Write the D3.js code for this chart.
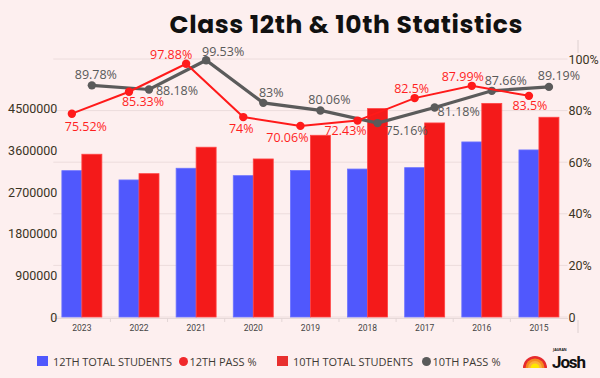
<!DOCTYPE html>
<html>
<head>
<meta charset="utf-8">
<script src="https://cdn.jsdelivr.net/npm/d3@7"></script>
<style>
  body { margin: 0; background: #fdefef; }
  svg { display: block; font-family: "Open Sans", sans-serif; }
</style>
</head>
<body>
<div id="chart"></div>
<script>
const years = ["2023", "2022", "2021", "2020", "2019", "2018", "2017", "2016", "2015"];
const total12 = [3165000, 2964000, 3217000, 3057000, 3170000, 3200000, 3230000, 3786000, 3613000];
const total10 = [3520000, 3100000, 3672000, 3418000, 3930000, 4507000, 4197000, 4620000, 4320000];
const pass12 = [75.52, 85.33, 97.88, 74, 70.06, 72.43, 82.5, 87.99, 83.5];
const pass10 = [89.78, 88.18, 99.53, 83, 80.06, 75.16, 81.18, 87.66, 89.19];
const leftTicks = [0, 900000, 1800000, 2700000, 3600000, 4500000];
const rightTicks = [0, 20, 40, 60, 80, 100];
const legendItems = [
  { label: "12TH TOTAL STUDENTS", shape: "rect", color: "#5058fd" },
  { label: "12TH PASS %", shape: "circle", color: "#f0282b" },
  { label: "10TH TOTAL STUDENTS", shape: "rect", color: "#e8302f" },
  { label: "10TH PASS %", shape: "circle", color: "#5a5a5a" },
];

// label placement (dx from point to label centre, dy to baseline)
const offset12 = [[14, 17], [14, 14], [-15, -5], [-2, 16], [-13, 16], [-12, 14], [-3, -5], [-9, -5], [1, 14]];
const offset10 = [[4, -6], [28, 6], [17, -4], [8, -6], [9, -6], [29, 12], [24, 8], [14, -6], [10, -7]];

const width = 600, height = 378;
const margin = { left: 53.3, right: 32.5, top: 59, bottom: 61 };
const plotRight = width - margin.right;
const plotBottom = height - margin.bottom;

const svg = d3.select("#chart").append("svg")
  .attr("width", width)
  .attr("height", height);

svg.append("rect").attr("width", width).attr("height", height).attr("fill", "#fdefef");

// title
svg.append("text")
  .attr("x", 346).attr("y", 33)
  .attr("text-anchor", "middle")
  .attr("textLength", 353)
  .style("font-family", "Poppins, 'Open Sans', sans-serif")
  .style("font-weight", 700)
  .style("font-size", "25px")
  .attr("fill", "#111")
  .text("Class 12th & 10th Statistics");

// scales
const x = d3.scaleBand()
  .domain(years)
  .range([margin.left, plotRight])
  .paddingInner(0.3)
  .paddingOuter(0.15);

const xSub = d3.scaleBand()
  .domain(["12", "10"])
  .range([0, x.bandwidth()]);

const yLeft = d3.scaleLinear().domain([0, 5580000]).range([plotBottom, margin.top]);
const yPct = d3.scaleLinear().domain([0, 100]).range([plotBottom, margin.top]);
const y12 = d3.scaleLinear().domain([-15.5, 100]).range([plotBottom, margin.top]);

// grid lines (from right axis)
svg.append("g")
  .selectAll("line")
  .data(rightTicks)
  .join("line")
  .attr("x1", margin.left).attr("x2", plotRight)
  .attr("y1", d => yPct(d)).attr("y2", d => yPct(d))
  .attr("stroke", "#ecdcdc")
  .attr("stroke-width", 1);

// x axis
const xAxis = svg.append("g")
  .attr("transform", `translate(0,${plotBottom + 1})`)
  .call(d3.axisBottom(x).tickSize(0).tickPadding(7))
  .call(g => g.select(".domain").attr("stroke", "#e6d8d8"));
xAxis.selectAll("text")
  .attr("fill", "#444")
  .style("font-size", "8.5px")
  .style("font-family", "Roboto, sans-serif");

const step = x.step();
svg.append("g")
  .selectAll("line")
  .data(years.slice(1))
  .join("line")
  .attr("x1", d => x(d) - (step - x.bandwidth()) / 2)
  .attr("x2", d => x(d) - (step - x.bandwidth()) / 2)
  .attr("y1", plotBottom + 1).attr("y2", plotBottom + 5)
  .attr("stroke", "#e3d6d6");

// left axis
svg.append("g")
  .attr("transform", `translate(${margin.left + 7},0)`)
  .call(d3.axisLeft(yLeft).tickValues(leftTicks).tickSize(0).tickPadding(3).tickFormat(d3.format("d")))
  .call(g => g.select(".domain").remove())
  .selectAll("text")
  .attr("fill", "#3b3424")
  .style("font-size", "12.5px")
  .style("font-family", "Roboto, sans-serif");

// right axis
svg.append("g")
  .attr("transform", `translate(${plotRight - 2},0)`)
  .call(d3.axisRight(yPct).tickValues(rightTicks).tickSize(0).tickPadding(3)
    .tickFormat(d => d === 0 ? "0" : d + "%"))
  .call(g => g.select(".domain").remove())
  .selectAll("text")
  .attr("fill", "#3b3424")
  .style("font-size", "12.5px")
  .style("font-family", "Roboto, sans-serif");

svg.append("g")
  .selectAll("line")
  .data([[margin.top - 19, margin.top - 6], [plotBottom + 3, plotBottom + 16]])
  .join("line")
  .attr("x1", plotRight + 10.5).attr("x2", plotRight + 10.5)
  .attr("y1", d => d[0]).attr("y2", d => d[1])
  .attr("stroke", "#ddd0d0");

// bars
const bars = svg.append("g");
bars.selectAll(".b12")
  .data(years)
  .join("rect")
  .attr("class", "b12")
  .attr("x", (d) => x(d) + xSub("12"))
  .attr("y", (d, i) => yLeft(total12[i]))
  .attr("width", xSub.bandwidth())
  .attr("height", (d, i) => plotBottom - yLeft(total12[i]))
  .attr("fill", "#5058fd")
  .attr("stroke", "#6d73ff")
  .attr("stroke-width", 0.8);

bars.selectAll(".b10")
  .data(years)
  .join("rect")
  .attr("class", "b10")
  .attr("x", (d) => x(d) + xSub("10"))
  .attr("y", (d, i) => yLeft(total10[i]))
  .attr("width", xSub.bandwidth())
  .attr("height", (d, i) => plotBottom - yLeft(total10[i]))
  .attr("fill", "#f41a1a")
  .attr("stroke", "#ff4444")
  .attr("stroke-width", 0.8);

// lines
const cx12 = (d) => x(d) + xSub("12") + xSub.bandwidth() / 2;
const cx10 = (d) => x(d) + xSub("10") + xSub.bandwidth() / 2;

const line10 = d3.line().x((d, i) => cx10(years[i])).y(d => yPct(d));
svg.append("path")
  .datum(pass10)
  .attr("d", line10)
  .attr("fill", "none")
  .attr("stroke", "#5b5b5b")
  .attr("stroke-width", 3.2);
svg.append("g").selectAll("circle")
  .data(pass10)
  .join("circle")
  .attr("cx", (d, i) => cx10(years[i]))
  .attr("cy", d => yPct(d))
  .attr("r", 4.2)
  .attr("fill", "#5b5b5b");

const line12 = d3.line().x((d, i) => cx12(years[i])).y(d => y12(d));
svg.append("path")
  .datum(pass12)
  .attr("d", line12)
  .attr("fill", "none")
  .attr("stroke", "#ff1a1a")
  .attr("stroke-width", 2);
svg.append("g").selectAll("circle")
  .data(pass12)
  .join("circle")
  .attr("cx", (d, i) => cx12(years[i]))
  .attr("cy", d => y12(d))
  .attr("r", 4.2)
  .attr("fill", "#ff1a1a");

// value labels
svg.append("g").selectAll("text")
  .data(pass10)
  .join("text")
  .attr("x", (d, i) => cx10(years[i]) + offset10[i][0])
  .attr("y", (d, i) => yPct(d) + offset10[i][1])
  .attr("text-anchor", "middle")
  .attr("fill", "#595959")
  .style("font-size", "12.5px")
  .text(d => d + "%");

svg.append("g").selectAll("text")
  .data(pass12)
  .join("text")
  .attr("x", (d, i) => cx12(years[i]) + offset12[i][0])
  .attr("y", (d, i) => y12(d) + offset12[i][1])
  .attr("text-anchor", "middle")
  .attr("fill", "#ff1f1f")
  .style("font-size", "12.5px")
  .text(d => d + "%");

// legend
const legendX = [37, 179, 277, 422];
const legendW = [119, 67, 120, 68];
const legend = svg.append("g").attr("transform", "translate(0,361.5)");
legendItems.forEach((item, i) => {
  const g = legend.append("g").attr("transform", `translate(${legendX[i]},0)`);
  if (item.shape === "rect") {
    g.append("rect").attr("x", 0).attr("y", -5.5).attr("width", 11).attr("height", 10).attr("fill", item.color);
  } else {
    g.append("circle").attr("cx", 4.5).attr("cy", 0).attr("r", 4.5).attr("fill", item.color);
  }
  g.append("text")
    .attr("x", item.shape === "rect" ? 16 : 10.5)
    .attr("y", 4)
    .attr("textLength", legendW[i])
    .attr("fill", "#3d3a35")
    .style("font-size", "11px")
    .style("font-weight", 500)
    .text(item.label);
});

// Josh logo
const logo = svg.append("g").attr("transform", "translate(535,368)");
[[12, "#e62a2d"], [9.5, "#f68a1f"], [7, "#fbb03b"], [4.5, "#ffe600"]].forEach(([r, c]) => {
  logo.append("path")
    .attr("d", d3.arc().innerRadius(0).outerRadius(r).startAngle(-Math.PI / 2).endAngle(Math.PI / 2)())
    .attr("fill", c);
});
logo.append("text")
  .attr("x", 17).attr("y", 0)
  .style("font-family", "Roboto, sans-serif")
  .style("font-weight", 700)
  .style("font-size", "17px")
  .attr("textLength", 34)
  .attr("fill", "#111")
  .text("Josh");
logo.append("text")
  .attr("x", 18).attr("y", -17.5)
  .style("font-size", "3.5px")
  .style("font-weight", 700)
  .attr("fill", "#111")
  .text("JAGRAN");
</script>
</body>
</html>
